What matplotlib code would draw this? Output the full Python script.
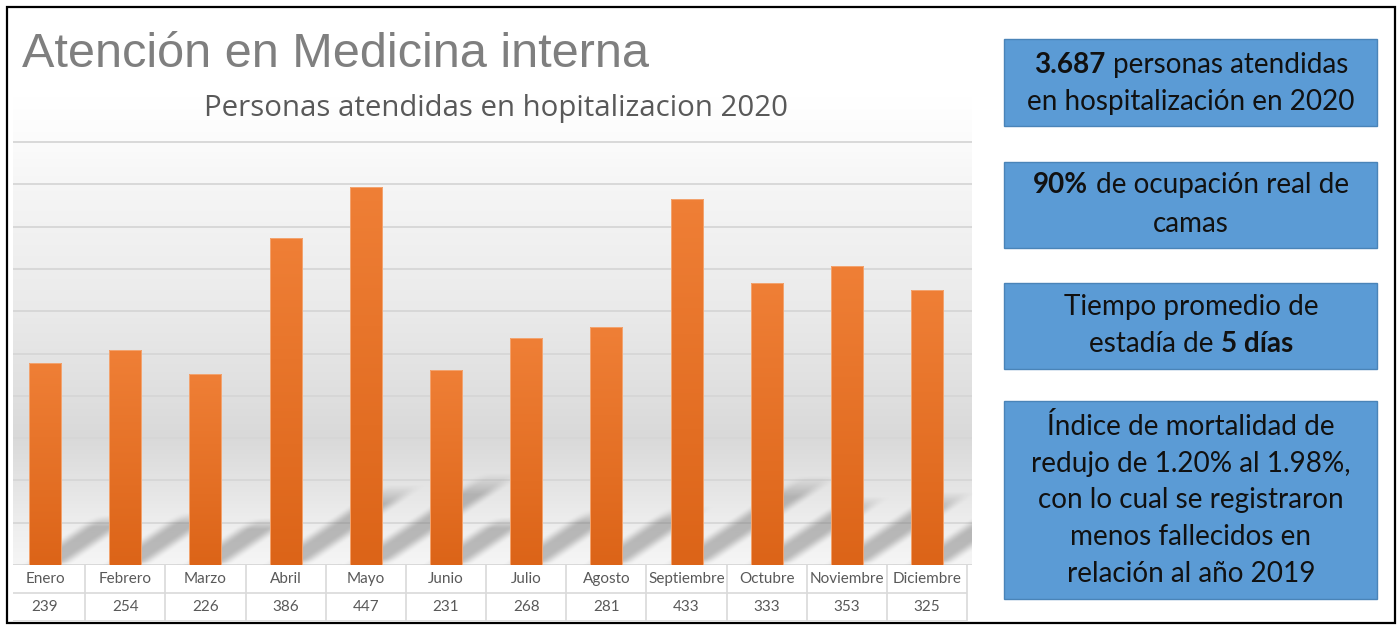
import numpy as np
import matplotlib.pyplot as plt
from matplotlib.patches import Rectangle
from matplotlib.colors import LinearSegmentedColormap

# Datos del grafico
meses = ["Enero", "Febrero", "Marzo", "Abril", "Mayo", "Junio", "Julio",
         "Agosto", "Septiembre", "Octubre", "Noviembre", "Diciembre"]
personas = [239, 254, 226, 386, 447, 231, 268, 281, 433, 333, 353, 325]

titulo = "Atención en Medicina interna"
subtitulo = "Personas atendidas en hopitalizacion 2020"

# Cajas de la derecha: lineas formadas por (texto, negrita)
cajas = [
    [[("3.687", True), ("personas atendidas", False)],
     [("en hospitalización en 2020", False)]],
    [[("90%", True), ("de ocupación real de", False)],
     [("camas", False)]],
    [[("Tiempo promedio de", False)],
     [("estadía de", False), ("5 días", True)]],
    [[("Índice de mortalidad de", False)],
     [("redujo de 1.20% al 1.98%,", False)],
     [("con lo cual se registraron", False)],
     [("menos fallecidos en", False)],
     [("relación al año 2019", False)]],
]

W, H = 1399, 626
fig = plt.figure(figsize=(W / 100, H / 100), dpi=100)
rend = fig.canvas.get_renderer()


def fx(px):
    return px / W


def fy(py):
    return 1 - py / H


def ajustar(t, ancho):
    # escala el tamaño de letra para que el texto tenga el ancho deseado
    w = t.get_window_extent(rend).width
    t.set_fontsize(t.get_fontsize() * ancho / w)


# marco exterior
fig.add_artist(Rectangle((fx(7), fy(623)), fx(1388), 616 / H, transform=fig.transFigure,
                         fill=False, edgecolor="black", lw=1.6))

# --- area del grafico ---
base_px, top_px, g500_px = 565, 95, 142
ytop = 500 * (base_px - top_px) / (base_px - g500_px)
xmin, xmax = -0.4, 11.56

ax = fig.add_axes([fx(13), fy(base_px), fx(972 - 13), (base_px - top_px) / H])
ax.set_axis_off()

# fondo degradado
paradas = [(0.0, "#f5f5f5"), (0.1, "#ececec"), (0.27, "#d9d9d9"), (0.36, "#dfdfdf"),
           (0.56, "#ebebeb"), (0.78, "#f4f4f4"), (0.9, "#fbfbfb"), (1.0, "#ffffff")]
cmap_fondo = LinearSegmentedColormap.from_list("fondo", paradas)
ax.imshow(np.linspace(0, 1, 300).reshape(-1, 1), cmap=cmap_fondo, origin="lower",
          extent=[xmin, xmax, 0, ytop], aspect="auto", zorder=0)

# lineas de cuadricula
for g in range(0, 501, 50):
    ax.axhline(g, color="#d6d6d6", lw=1.3, zorder=1)

# sombras diagonales detras de las barras
ancho = 0.4
for i, v in enumerate(personas):
    x0, x1 = i - ancho / 2, i + ancho / 2
    dy = 0.23 * v
    dx = 0.0036 * v
    ex = [x0 - 0.2, x1 + dx + 0.25, 0, dy * 1.08]
    X, Y = np.meshgrid(np.linspace(ex[0], ex[1], 300), np.linspace(0, ex[3], 220))
    t = Y / dy
    s = (X - dx * t - x0) / (x1 - x0)
    a_s = np.clip((s + 0.3) / 0.6, 0, 1) * np.clip((1.3 - s) / 0.6, 0, 1)
    a_s = a_s * a_s * (3 - 2 * a_s)
    a_t = np.clip(t / 0.1 + 0.3, 0, 1) * np.clip((1.06 - t) / 0.25, 0, 1)
    img = np.zeros(X.shape + (4,))
    img[..., :3] = 0.45
    img[..., 3] = 0.45 * a_s * a_t
    ax.imshow(img, origin="lower", extent=ex, aspect="auto", zorder=2, interpolation="bilinear")

# barras con degradado naranja
cmap_barra = LinearSegmentedColormap.from_list("barra", ["#dc6418", "#ef7f36"])
barras = ax.bar(range(len(personas)), personas, width=ancho, color="#e6712a",
                edgecolor="none", zorder=3)
for i, (b, v) in enumerate(zip(barras, personas)):
    im = ax.imshow(np.linspace(0, 1, 100).reshape(-1, 1), cmap=cmap_barra, origin="lower",
                   extent=[i - ancho / 2, i + ancho / 2, 0, v], aspect="auto", zorder=3.5)
    im.set_clip_path(b)
ax.bar(range(len(personas)), personas, width=ancho, fill=False, edgecolor="#f3a571",
       lw=0.7, zorder=4)

ax.set_xlim(xmin, xmax)
ax.set_ylim(0, ytop)

# --- tabla de datos debajo del grafico ---
tax = fig.add_axes([fx(13), fy(621), fx(972 - 13), (621 - base_px) / H])
tax.set_axis_off()
tax.set_xlim(xmin, xmax)
tax.set_ylim(2, 0)
tax.hlines([1, 2], xmin, 11.5, color="#d9d9d9", lw=1.2)
tax.vlines(np.arange(0.5, 12, 1), 0, 2, color="#d9d9d9", lw=1.2)
for i, (m, v) in enumerate(zip(meses, personas)):
    tax.text(i, 0.5, m, ha="center", va="center", fontsize=11, color="#595959", family="Lato")
    tax.text(i, 1.5, str(v), ha="center", va="center", fontsize=11, color="#595959", family="Lato")

# titulos
t1 = fig.text(fx(22), fy(67), titulo, fontsize=35, color="#7f7f7f",
              family="Liberation Sans", va="baseline")
ajustar(t1, 628)
t2 = fig.text(fx(496), fy(116), subtitulo, fontsize=18, color="#595959",
              family="Open Sans", ha="center", va="baseline")
ajustar(t2, 582)

# --- cajas de texto azules ---
rects = [(39, 126), (162, 248), (283, 369), (401, 599)]
bases = [[73, 110], [193, 232], [315, 352], [435, 472, 508, 545, 582]]
cx = 1191

# tamaño de letra a partir de una linea de referencia
ref = fig.text(0, 0, "en hospitalización en 2020", fontsize=19, family="Lato")
ajustar(ref, 328)
tam = ref.get_fontsize()
ref.remove()


def ancho_txt(s, bold):
    tt = fig.text(0, 0, s, fontsize=tam, family="Lato", fontweight="bold" if bold else "normal")
    w = tt.get_window_extent(rend).width
    tt.remove()
    return w


espacio = ancho_txt("a a", False) - ancho_txt("aa", False)

for (y0, y1), lineas, ys in zip(rects, cajas, bases):
    fig.add_artist(Rectangle((fx(1004), fy(y1)), fx(373), (y1 - y0) / H,
                             transform=fig.transFigure, facecolor="#5b9bd5",
                             edgecolor="#4a84b8", lw=1))
    for partes, yb in zip(lineas, ys):
        anchos = [ancho_txt(s, b) for s, b in partes]
        total = sum(anchos) + espacio * (len(partes) - 1)
        x = cx - total / 2
        for (s, b), w in zip(partes, anchos):
            fig.text(fx(x), fy(yb), s, fontsize=tam, family="Lato", color="#111111",
                     fontweight="bold" if b else "normal", va="baseline")
            x += w + espacio

fig.savefig("out.png", dpi=100, facecolor="white")
